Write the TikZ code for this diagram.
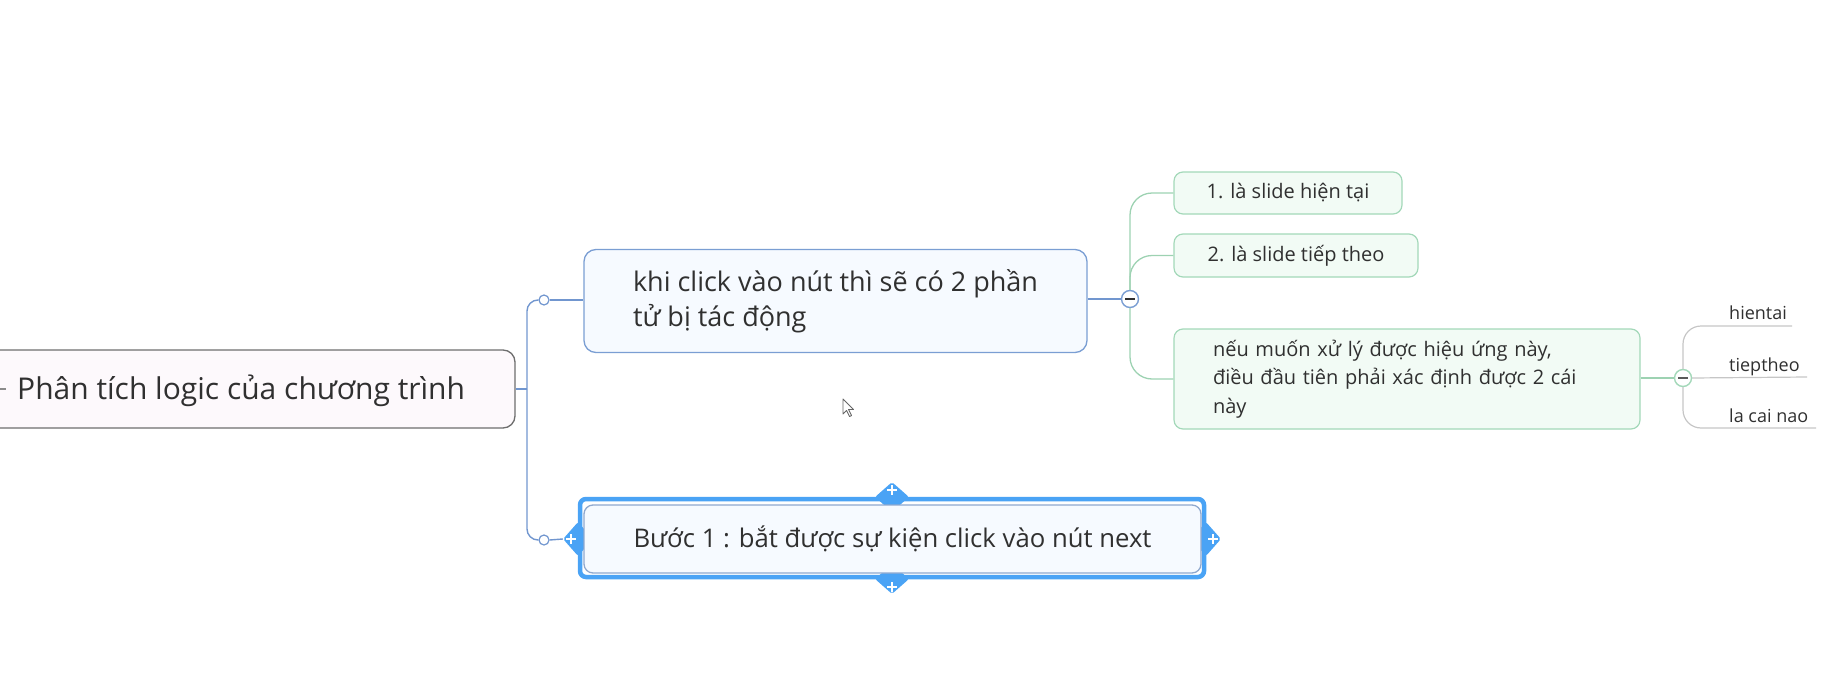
\documentclass[tikz,border=0pt]{standalone}
\usepackage{fontspec}
\setmainfont{Open Sans}
\usetikzlibrary{shapes.geometric}
\definecolor{txt}{HTML}{303030}
\definecolor{rootbd}{HTML}{6E6E6E}
\definecolor{rootbg}{HTML}{FDF9FC}
\definecolor{bluebd}{HTML}{7A9ED3}
\definecolor{bluebg}{HTML}{F6FAFF}
\definecolor{blueln}{HTML}{7196CF}
\definecolor{greenbd}{HTML}{A3D8B9}
\definecolor{greenbg}{HTML}{F2FBF5}
\definecolor{greenln}{HTML}{9DD2B2}
\definecolor{grayln}{HTML}{C6C6C6}
\definecolor{sel}{HTML}{4AA3F5}
\definecolor{selinner}{HTML}{8FA8CE}
\begin{document}
\begin{tikzpicture}[x=1pt,y=-1pt,
  box/.style={draw, rounded corners=12pt, inner sep=0pt, text=txt, align=left},
  rootbox/.style={box, draw=rootbd, fill=rootbg, line width=1.3pt},
  topicbox/.style={box, draw=bluebd, fill=bluebg, line width=1.3pt, font=\fontsize{27}{35}\selectfont},
  subbox/.style={box, draw=greenbd, fill=greenbg, line width=1.2pt, rounded corners=9pt, font=\fontsize{20}{28.5}\selectfont},
  leaftext/.style={text=txt, inner sep=0pt, anchor=base west, font=\fontsize{18}{22}\selectfont},
  blueline/.style={draw=blueln, line width=1.4pt},
  greenline/.style={draw=greenln, line width=1.3pt},
  grayline/.style={draw=grayln, line width=1.2pt},
  dot/.style={circle, draw=blueln, fill=white, line width=1.2pt, minimum size=10pt, inner sep=0pt},
  minusc/.style={circle, fill=white, line width=1.4pt, minimum size=17pt, inner sep=0pt},
  handle/.style={diamond, fill=sel, inner sep=0pt, rounded corners=2pt}
]
\useasboundingbox (0,0) rectangle (1834,680);
\clip (0,0) rectangle (1834,680);

% root
\node[rootbox, minimum width=575pt, minimum height=78pt] (root) at (227.5,389) {};
\node[text=txt, anchor=west, inner sep=0pt, font=\fontsize{30}{35}\selectfont] (roottext) at (17,391) {Phân tích logic của chương trình};
\draw[draw=rootbd!80, line width=1.3pt] (-2,389) -- (6,389);

% topic 1
\node[topicbox, minimum width=503pt, minimum height=103pt] (n1) at (835.5,301) {khi click vào nút thì sẽ có 2 phần\\tử bị tác động};

% step 1 (selected)
\node[draw=sel, line width=4.5pt, fill=white, rounded corners=6pt, minimum width=624pt, minimum height=78pt, inner sep=0pt] (frame) at (892,538) {};
\node[handle, minimum width=34pt, minimum height=30pt] (ht) at (892,497) {};
\node[handle, minimum width=34pt, minimum height=30pt] (hb) at (892,579) {};
\node[handle, minimum width=30pt, minimum height=34pt] (hl) at (578,539) {};
\node[handle, minimum width=30pt, minimum height=34pt] (hr) at (1206,539) {};
\node[box, draw=selinner, fill=bluebg, line width=1.3pt, rounded corners=9pt, minimum width=617pt, minimum height=68pt, font=\fontsize{25.7}{35}\selectfont] (n2) at (892.5,539) {Bước 1 : bắt được sự kiện click vào nút next};
\foreach \q in {{(892,490)}, {(892,587)}, {(571,539)}, {(1213,539)}}{
  \draw[white, line width=2.6pt] \q ++(-5,0) -- ++(10,0);
  \draw[white, line width=2.6pt] \q ++(0,-5) -- ++(0,10);
}

% trunk
\coordinate (t) at (527,389);
\node[dot] (c1) at (544,300) {};
\node[dot] (c2) at (544,540) {};
\draw[blueline] (root.east |- t) -- (t);
\draw[blueline, rounded corners=11pt] (c1.west) -| (t);
\draw[blueline, rounded corners=11pt] (c2.west) -| (t);
\draw[blueline] (c1.east) -- (n1.west |- c1);
\draw[blueline] (c2.east) -- (hl.west);

% subtopics
\node[subbox, minimum width=228pt, minimum height=42pt] (s1) at (1288,193) {1. là slide hiện tại};
\node[subbox, minimum width=244pt, minimum height=43pt] (s2) at (1296,255.5) {2. là slide tiếp theo};
\node[subbox, minimum width=466pt, minimum height=100pt, inner xsep=39pt, text width=388pt] (s3) at (1407,379) {nếu muốn xử lý được hiệu ứng này,\\điều đầu tiên phải xác định được 2 cái\\này};
\node[minusc, draw=bluebd] (m1) at (1130,299) {};
\draw[txt, line width=1.6pt] (1125,299) -- (1135,299);
\draw[blueline] (n1.east |- m1) -- (m1.west);
\draw[greenline, rounded corners=22pt] (m1.north) |- (s1.west);
\draw[greenline, rounded corners=22pt] (m1.north) |- (s2.west);
\draw[greenline, rounded corners=22pt] (m1.south) |- (s3.west);

% leaves
\node[minusc, draw=greenbd] (m2) at (1683,378) {};
\draw[txt!80, line width=1.6pt] (1678,378) -- (1688,378);
\draw[greenline] (s3.east |- m2) -- (m2.west);
\node[leaftext] (l1) at (1729,319) {hientai};
\node[leaftext] (l2) at (1729,371) {tieptheo};
\node[leaftext] (l3) at (1729,422) {la cai nao};
\coordinate (e1) at (1792,326);
\coordinate (e2) at (1807,377);
\coordinate (e3) at (1816,428);
\draw[grayline, rounded corners=18pt] (m2.north) |- (e1);
\draw[grayline] (m2.east) -- (e2);
\draw[grayline, rounded corners=18pt] (m2.south) |- (e3);

% mouse pointer
\draw[fill=white, draw=gray!80!black, line width=0.9pt, line join=round]
  (843,399) -- (843,414) -- (846.5,410.5) -- (849.5,416.5) -- (851.5,415.5) -- (848.5,409.5) -- (853.5,409.5) -- cycle;
\end{tikzpicture}
\end{document}
